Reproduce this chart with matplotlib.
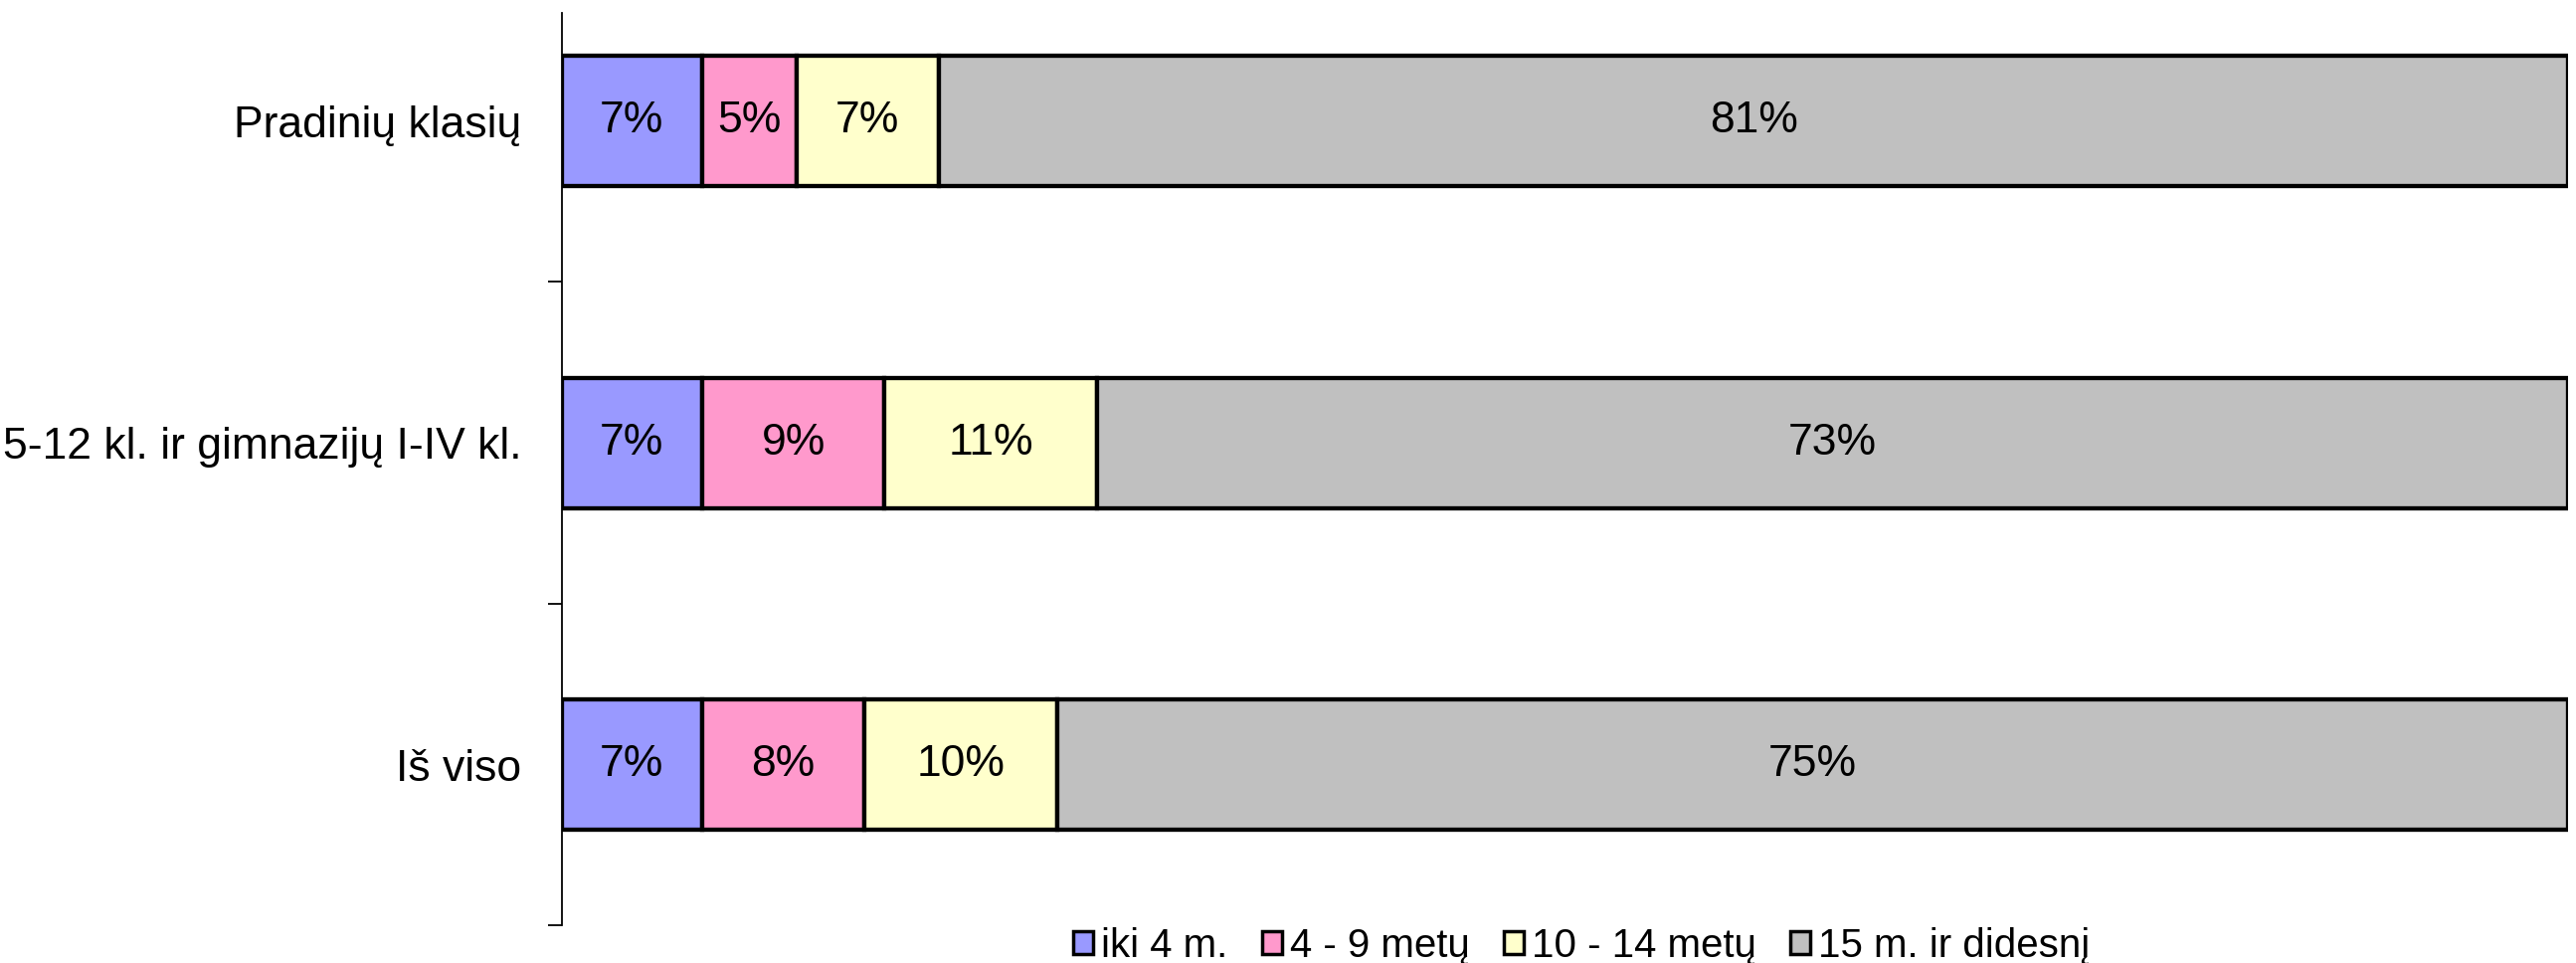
import matplotlib.pyplot as plt
from matplotlib.patches import Patch
import numpy as np

plt.rcParams['font.family'] = ['Liberation Sans', 'DejaVu Sans']

categories = ['Pradinių klasių', '5-12 kl. ir gimnazijų I-IV kl.', 'Iš viso']
series = ['iki 4 m.', '4 - 9 metų', '10 - 14 metų', '15 m. ir didesnį']
values = {
    'iki 4 m.':        [7.0, 7.0, 7.0],
    '4 - 9 metų':      [4.7, 9.1, 8.1],
    '10 - 14 metų':    [7.1, 10.6, 9.6],
    '15 m. ir didesnį': [81.2, 73.3, 75.3],
}
colors = ['#9999FF', '#FF99CC', '#FFFFCC', '#C0C0C0']

fig = plt.figure(figsize=(25.9, 9.68), dpi=100)
ax = fig.add_axes([0.218, 0.039, 0.779, 0.9476])

y = np.arange(len(categories))
left = np.zeros(len(categories))
for name, col in zip(series, colors):
    v = np.array(values[name])
    bars = ax.barh(y, v, left=left, height=0.405, color=col,
                   edgecolor='black', linewidth=3.1)
    ax.bar_label(bars, labels=['%.0f%%' % x for x in v], label_type='center',
                 fontsize=32, color='black')
    left += v

ax.set_xlim(0, 100)
ax.set_ylim(2.5, -0.336)
ax.set_yticks(y, categories, fontsize=32)
ax.set_yticks(y + 0.5, minor=True)
ax.tick_params(axis='y', which='major', length=0, pad=29)
ax.tick_params(axis='y', which='minor', length=10, width=1.3, direction='out')
ax.set_xticks([])
for s in ['top', 'right', 'bottom']:
    ax.spines[s].set_visible(False)
ax.spines['left'].set_linewidth(1.3)

# legende en bas
handles = [Patch(facecolor=c, edgecolor='black', linewidth=2.5) for c in colors]
fig.legend(handles, series, loc='center', bbox_to_anchor=(0.614, 0.018),
           ncol=4, frameon=False, fontsize=29, handlelength=0.5,
           handleheight=0.5, handletextpad=0.2, columnspacing=0.85,
           borderaxespad=0)

fig.savefig('out.png', dpi=100)
